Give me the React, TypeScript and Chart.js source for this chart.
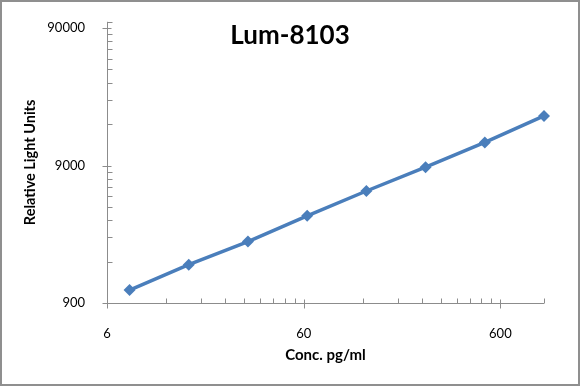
import React, { useEffect, useRef } from "react";
import { Chart, registerables } from "chart.js";

Chart.register(...registerables);

const chartTitle = "Lum-8103";
const xAxisTitle = "Conc. pg/ml";
const yAxisTitle = "Relative Light Units";

const concentrations = [7.8125, 15.625, 31.25, 62.5, 125, 250, 500, 1000];
const rluValues = [1117, 1711, 2520, 3879, 5875, 8750, 13248, 20650];

const xMin = 6;
const xMax = 1000;
const yMin = 900;
const yMax = 100000;
const xMajorTicks = [6, 60, 600];
const yMajorTicks = [900, 9000, 90000];

function logTicks(min: number, max: number, majors: number[]) {
  const out: number[] = [];
  majors.forEach((m) => {
    for (let k = 1; k <= 9; k++) {
      const v = m * k;
      if (v <= max) out.push(v);
    }
  });
  if (!out.includes(max)) out.push(max);
  return out.filter((v) => v >= min);
}

const xTickValues = logTicks(xMin, xMax, xMajorTicks);
const yTickValues = logTicks(yMin, yMax, yMajorTicks);

const AXIS_COLOR = "#8c8c8c";
const LINE_COLOR = "#4a7ebb";
const FONT = "Lato, 'Open Sans', sans-serif";

const decorPlugin = {
  id: "decor",
  beforeDraw(chart: any) {
    const ctx = chart.ctx;
    ctx.save();
    ctx.fillStyle = "#ffffff";
    ctx.fillRect(0, 0, chart.width, chart.height);
    ctx.restore();
  },
  afterDraw(chart: any) {
    const ctx = chart.ctx;
    const xs = chart.scales.x;
    const ys = chart.scales.y;
    const area = chart.chartArea;
    ctx.save();
    // outer border
    ctx.strokeStyle = "#8f8f8f";
    ctx.lineWidth = 2;
    ctx.strokeRect(1, 1, chart.width - 2, chart.height - 2);

    ctx.strokeStyle = AXIS_COLOR;
    ctx.lineWidth = 1;
    const axisY = Math.round(area.bottom) + 0.5;
    const axisX = Math.round(area.left) + 0.5;
    ctx.beginPath();
    ctx.moveTo(area.left, axisY);
    ctx.lineTo(area.right, axisY);
    ctx.moveTo(axisX, area.top);
    ctx.lineTo(axisX, area.bottom);
    xTickValues.forEach((v) => {
      const px = Math.round(xs.getPixelForValue(v)) + 0.5;
      if (xMajorTicks.includes(v)) {
        ctx.moveTo(px, axisY - 4);
        ctx.lineTo(px, axisY + 5);
      } else {
        ctx.moveTo(px, axisY - 5);
        ctx.lineTo(px, axisY);
      }
    });
    yTickValues.forEach((v) => {
      const py = Math.round(ys.getPixelForValue(v)) + 0.5;
      if (yMajorTicks.includes(v)) {
        ctx.moveTo(axisX - 5, py);
        ctx.lineTo(axisX + 4, py);
      } else {
        ctx.moveTo(axisX, py);
        ctx.lineTo(axisX + 5, py);
      }
    });
    ctx.stroke();

    // title
    ctx.fillStyle = "#000000";
    ctx.font = "bold 26px " + FONT;
    ctx.textAlign = "center";
    ctx.textBaseline = "middle";
    ctx.fillText(chartTitle, 290, 36);
    ctx.restore();
  },
};

export default function App() {
  const ref = useRef<HTMLCanvasElement | null>(null);

  useEffect(() => {
    if (!ref.current) return;
    const chart = new Chart(ref.current, {
      type: "line",
      data: {
        datasets: [
          {
            data: concentrations.map((x, i) => ({ x, y: rluValues[i] })),
            borderColor: LINE_COLOR,
            backgroundColor: LINE_COLOR,
            borderWidth: 3.5,
            pointStyle: "rectRot",
            pointRadius: 6,
            pointBorderWidth: 0,
            tension: 0,
            clip: false,
          } as any,
        ],
      },
      options: {
        animation: false,
        responsive: false,
        events: [],
        layout: { padding: { top: 16, right: 36, left: 0, bottom: 0 } },
        plugins: {
          legend: { display: false },
          tooltip: { enabled: false },
          title: { display: false },
        },
        scales: {
          x: {
            type: "logarithmic",
            min: xMin,
            max: xMax,
            grid: { display: false },
            border: { display: false },
            afterBuildTicks: (scale: any) => {
              scale.ticks = xTickValues.map((v) => ({ value: v }));
            },
            afterFit: (scale: any) => {
              scale.height = 83;
            },
            ticks: {
              autoSkip: false,
              maxRotation: 0,
              padding: 15,
              color: "#000000",
              font: { family: FONT, size: 13 },
              callback: (v: any) => (xMajorTicks.includes(Number(v)) ? String(v) : ""),
            },
            title: {
              display: true,
              text: xAxisTitle,
              color: "#000000",
              font: { family: FONT, size: 15, weight: "bold" },
              padding: { top: 0, bottom: 22 },
            },
          },
          y: {
            type: "logarithmic",
            min: yMin,
            max: yMax,
            grid: { display: false },
            border: { display: false },
            afterBuildTicks: (scale: any) => {
              scale.ticks = yTickValues.map((v) => ({ value: v }));
            },
            afterFit: (scale: any) => {
              scale.width = 107;
            },
            ticks: {
              autoSkip: false,
              padding: 14,
              color: "#000000",
              font: { family: FONT, size: 13 },
              callback: (v: any) => (yMajorTicks.includes(Number(v)) ? String(v) : ""),
            },
            title: {
              display: true,
              text: yAxisTitle,
              color: "#000000",
              font: { family: FONT, size: 14.5, weight: "bold" },
              padding: { top: 22, bottom: 0 },
            },
          },
        },
      } as any,
      plugins: [decorPlugin],
    });
    return () => chart.destroy();
  }, []);

  return (
    <div style={{ position: "fixed", left: 0, top: 0, width: 580, height: 386 }}>
      <canvas ref={ref} width={580} height={386} style={{ width: 580, height: 386, display: "block" }} />
    </div>
  );
}
